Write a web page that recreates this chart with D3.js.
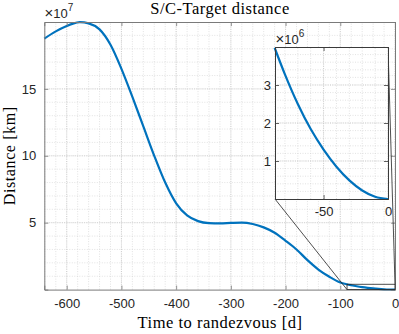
<!DOCTYPE html>
<html><head><meta charset="utf-8">
<script src="https://cdn.jsdelivr.net/npm/d3@7"></script>
<style>
html,body{margin:0;padding:0;background:#fff;}
svg{display:block;}
.tick text{font-family:"Liberation Sans",Arial,sans-serif;font-size:13px;fill:#262626;}
.serif{font-family:"Liberation Serif","DejaVu Serif",serif;fill:#000;}
</style></head>
<body>
<svg id="c" width="399" height="334"></svg>
<script>
// ---- data ----
const days = [-641,-620,-600,-590,-576,-560,-540,-520,-500,-480,-460,-440,-420,-400,-380,-360,-340,-320,-300,-280,-260,-240,-220,-200,-180,-160,-140,-120,-100,-88,-80,-70,-60,-50,-40,-30,-20,-10,0];
const distKm = [187.6e6,193e6,197e6,198.6e6,199.9e6,199e6,194.5e6,183e6,165e6,144e6,122e6,100e6,80e6,64.5e6,55.5e6,51.2e6,49.7e6,49.5e6,49.8e6,50e6,49e6,46.5e6,42.5e6,36.5e6,30e6,22e6,15e6,9.6e6,5.3e6,3.98e6,3.28e6,2.5e6,1.84e6,1.3e6,0.85e6,0.49e6,0.225e6,0.06e6,0];
const mainXTicks = [-600,-500,-400,-300,-200,-100,0];
const mainYTicks = [5,10,15];          // ×10^7 km
const insetXTicks = [-50,0];
const insetYTicks = [1,2,3];           // ×10^6 km
const titleText = "S/C-Target distance";
const xLabelText = "Time to randezvous [d]";
const yLabelText = "Distance [km]";

const svg = d3.select("#c");
const lineColor = "#0072BD";

function drawAxes(g, x, y, opts){
  const [x0,x1] = x.range(), [y0,y1] = y.range(); // y0 bottom
  g.append("rect").attr("x",x0).attr("y",y1).attr("width",x1-x0).attr("height",y0-y1).attr("fill","#fff");
  const gg = g.append("g");
  opts.xMinor.forEach(v=>gg.append("line").attr("x1",x(v)).attr("x2",x(v)).attr("y1",y0).attr("y2",y1)
     .attr("stroke","#cfcfcf").attr("stroke-width",0.6).attr("stroke-dasharray","1,1.5"));
  opts.yMinor.forEach(v=>gg.append("line").attr("y1",y(v)).attr("y2",y(v)).attr("x1",x0).attr("x2",x1)
     .attr("stroke","#cfcfcf").attr("stroke-width",0.6).attr("stroke-dasharray","1,1.5"));
  opts.xMajor.forEach(v=>gg.append("line").attr("x1",x(v)).attr("x2",x(v)).attr("y1",y0).attr("y2",y1)
     .attr("stroke","#c4c4c4").attr("stroke-width",0.7).attr("stroke-dasharray","1,1.2"));
  opts.yMajor.forEach(v=>gg.append("line").attr("y1",y(v)).attr("y2",y(v)).attr("x1",x0).attr("x2",x1)
     .attr("stroke","#c4c4c4").attr("stroke-width",0.7).attr("stroke-dasharray","1,1.2"));
  const line = d3.line().x(d=>x(d[0])).y(d=>y(d[1])).curve(d3.curveMonotoneX);
  const clipId = "clip"+opts.id;
  g.append("clipPath").attr("id",clipId).append("rect").attr("x",x0-2).attr("y",y1-2).attr("width",x1-x0+4).attr("height",y0-y1+4);
  g.append("path").datum(opts.data).attr("d",line).attr("fill","none").attr("stroke",lineColor)
    .attr("stroke-width",2.2).attr("clip-path",`url(#${clipId})`);
  const ax = g.append("g").attr("transform",`translate(0,${y0})`)
    .call(d3.axisBottom(x).tickValues(opts.xMajor).tickSize(-4).tickPadding(opts.xPad).tickFormat(d3.format("d")));
  const ay = g.append("g").attr("transform",`translate(${x0},0)`)
    .call(d3.axisLeft(y).tickValues(opts.yMajor).tickSize(-4).tickPadding(opts.yPad).tickFormat(opts.yFmt));
  const axT = g.append("g").attr("transform",`translate(0,${y1})`)
    .call(d3.axisTop(x).tickValues(opts.xMajor).tickSize(-4).tickFormat(""));
  const ayR = g.append("g").attr("transform",`translate(${x1},0)`)
    .call(d3.axisRight(y).tickValues(opts.yMajor).tickSize(-4).tickFormat(""));
  [ax,ay,axT,ayR].forEach(a=>{
    a.select(".domain").attr("stroke",opts.boxColor).attr("stroke-width",1);
    a.selectAll(".tick line").attr("stroke",opts.boxColor).attr("stroke-width",0.8);
  });
  ax.selectAll(".tick text").text(d=>String(d).replace("−","-"));
}

const data = days.map((d,i)=>[d,distKm[i]]);

// ---- main axes ----
const M = {l:44.3, r:395, t:22, b:289.6};
const x = d3.scaleLinear().domain([-641,0]).range([M.l,M.r]);
const y = d3.scaleLinear().domain([0,2e8]).range([M.b,M.t]);
const gm = svg.append("g");
drawAxes(gm, x, y, {
  id:"m", data,
  xMajor: mainXTicks, yMajor: mainYTicks.map(v=>v*1e7),
  xMinor: d3.range(-640,1,20), yMinor: d3.range(1e7,2e8,1e7),
  xPad:9, yPad:8, yFmt:d=>d3.format("d")(d/1e7), boxColor:"#7a7a7a"
});

// ---- inset ----
const I = {l:275, r:388, t:47, b:199};
const xi = d3.scaleLinear().domain([-87.7,0]).range([I.l,I.r]);
const yi = d3.scaleLinear().domain([0,4e6]).range([I.b,I.t]);
const insetData = data.filter(d=>d[0]>=-88);

const rx0 = x(-87.7), rx1 = x(0), ry0 = y(0), ry1 = y(4e6);
svg.append("rect").attr("x",rx0).attr("y",ry1).attr("width",rx1-rx0).attr("height",ry0-ry1)
  .attr("fill","none").attr("stroke","#222").attr("stroke-width",0.8);
svg.append("line").attr("x1",I.l).attr("y1",I.b).attr("x2",rx0).attr("y2",ry0).attr("stroke","#222").attr("stroke-width",0.8);
svg.append("line").attr("x1",I.r).attr("y1",I.t).attr("x2",rx1).attr("y2",ry1).attr("stroke","#222").attr("stroke-width",0.8);

const gi = svg.append("g");
drawAxes(gi, xi, yi, {
  id:"i", data: insetData,
  xMajor: insetXTicks, yMajor: insetYTicks.map(v=>v*1e6),
  xMinor: d3.range(-80,1,10), yMinor: d3.range(2e5,4e6,2e5),
  xPad:8, yPad:4, yFmt:d=>d3.format("d")(d/1e6), boxColor:"#3a3a3a"
});

function expLabel(xp, yp, ex){
  const t = svg.append("text").attr("x",xp).attr("y",yp)
    .style("font-family","Liberation Sans,Arial,sans-serif").style("font-size","13px").attr("fill","#262626");
  t.append("tspan").style("font-size","15px").text("×");
  t.append("tspan").text("10");
  t.append("tspan").attr("dy",-7).style("font-size","10px").text(ex);
}
expLabel(44.5, 17.5, "7");
expLabel(275.5, 43.5, "6");

svg.append("text").attr("class","serif").attr("x",220).attr("y",14).attr("text-anchor","middle")
  .style("font-size","16.5px").style("letter-spacing","0.5px").text(titleText);
svg.append("text").attr("class","serif").attr("x",220).attr("y",328).attr("text-anchor","middle")
  .style("font-size","16.5px").style("letter-spacing","0.5px").text(xLabelText);
svg.append("text").attr("class","serif").attr("transform",`translate(14.5,${(M.t+M.b)/2}) rotate(-90)`)
  .attr("text-anchor","middle").style("font-size","16px").style("letter-spacing","0.6px").text(yLabelText);
</script>
</body></html>
